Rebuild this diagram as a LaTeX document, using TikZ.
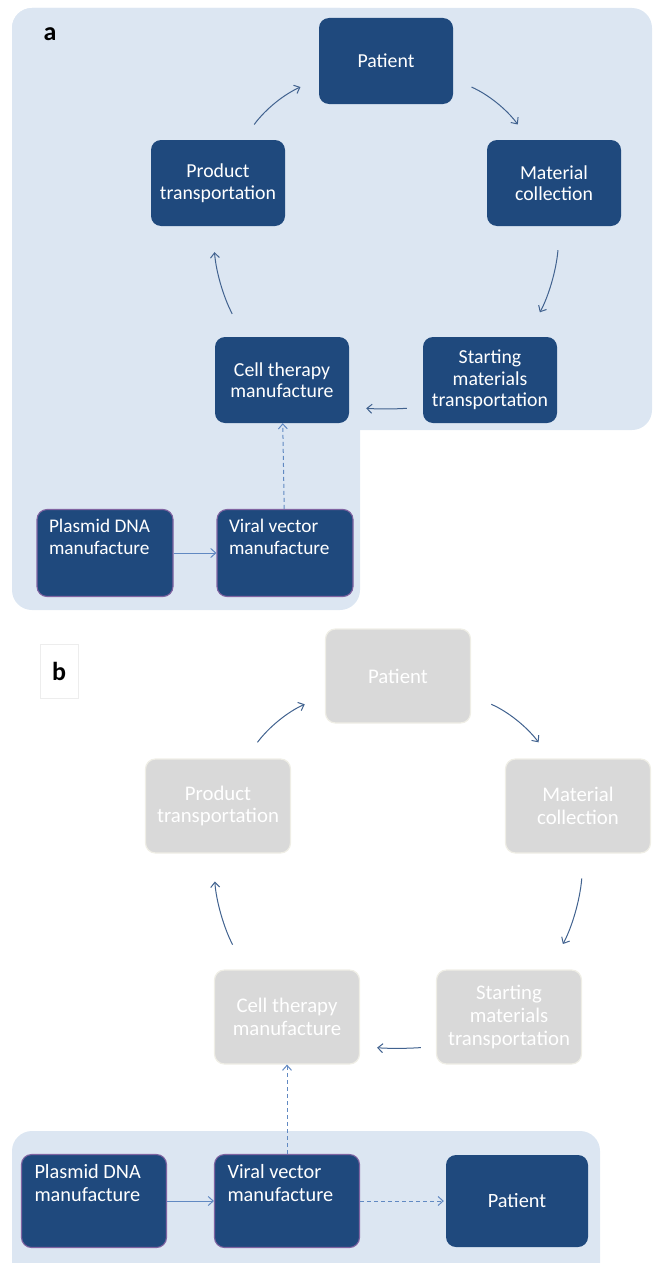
\documentclass[tikz,border=0pt]{standalone}
\usepackage{fontspec}
\setmainfont{Carlito}
\usepackage{tikz}
\usetikzlibrary{arrows.meta,positioning,calc}
\definecolor{bgBlue}{HTML}{DCE6F2}
\definecolor{boxBlue}{HTML}{1F497D}
\definecolor{boxGrey}{HTML}{D9D9D9}
\definecolor{greyEdge}{HTML}{EFEEE6}
\definecolor{lineBlue}{HTML}{41628F}
\definecolor{dashBlue}{HTML}{6189C2}
\definecolor{edgePurple}{HTML}{8064A2}

\begin{document}
\begin{tikzpicture}[x=1pt,y=-1pt,
  stage/.style={rounded corners=10pt,fill=boxBlue,text=white,align=center,inner sep=0pt,
    minimum width=134pt,minimum height=86pt,font=\fontsize{19.8}{21.5}\selectfont},
  vecbox/.style={stage,draw=edgePurple,line width=1.1pt,minimum width=136pt,minimum height=87pt,
    font=\fontsize{19.3}{21.5}\selectfont},
  faded/.style={stage,fill=boxGrey,draw=greyEdge,line width=1.2pt,
    minimum width=145pt,minimum height=94pt,font=\fontsize{20.8}{22.8}\selectfont},
  stageB/.style={stage,minimum width=145pt,minimum height=93pt,font=\fontsize{20.3}{22.8}\selectfont},
  vecboxB/.style={stageB,draw=edgePurple,line width=1.1pt},
  panel/.style={font=\fontsize{26}{26}\selectfont\bfseries},
  cyc/.style={-{Straight Barb[length=5pt,width=9pt]},lineBlue,line width=1pt},
  feed/.style={-{Straight Barb[length=5pt,width=9pt]},dashBlue,line width=1pt},
  feeddash/.style={feed,dash pattern=on 4pt off 3pt}]
\useasboundingbox (0,0) rectangle (653,1263);
% panel backgrounds
\fill[bgBlue,rounded corners=20pt] (12,8) rectangle (652,430);
\fill[bgBlue,rounded corners=20pt] (12,8) rectangle (360,610);
\fill[bgBlue,rounded corners=20pt] (12,1131) rectangle (600,1295);

% panel a
\node[panel] (labA) at (50,34) {a};
\node[stage] (patA) at (386,61) {Patient};
\node[stage] (matA) at (554,183) {Material\\collection};
\node[stage] (prodA) at (218,183) {Product\\transportation};
\node[stage] (startA) at (490,380) {Starting\\materials\\transportation};
\node[stage] (cellA) at (282,380) {Cell therapy\\manufacture};
\node[vecbox] (plasA) at (105,553) {\parbox[c][67pt][t]{112pt}{Plasmid DNA\\manufacture}};
\node[vecbox] (viraA) at (285,553) {\parbox[c][67pt][t]{112pt}{Viral vector\\manufacture}};
\draw[cyc,shorten <=19pt,shorten >=20pt] (prodA.60) to[bend left=15] (patA.195);
\draw[cyc,shorten <=20pt,shorten >=19pt] (patA.-15) to[bend left=15] (matA.120);
\draw[cyc,shorten <=24pt,shorten >=28pt] (matA.-82) to[bend left=12] (startA.50);
\draw[cyc,shorten <=16pt,shorten >=17pt] (startA.202) to[bend left=4] (cellA.-22);
\draw[cyc,shorten <=26pt,shorten >=26pt] (cellA.131) to[bend left=12] (prodA.263);
\draw[feed] (plasA) -- (viraA);
\draw[feeddash] (viraA) -- (cellA);

% panel b
\node[panel,draw=black!7,fill=white,minimum width=38pt,minimum height=54pt] (labB) at (59,671) {b};
\node[faded] (patB) at (398,676) {Patient};
\node[faded] (matB) at (578,806) {Material\\collection};
\node[faded] (prodB) at (218,806) {Product\\transportation};
\node[faded] (startB) at (509,1017) {Starting\\materials\\transportation};
\node[faded] (cellB) at (287,1017) {Cell therapy\\manufacture};
\node[vecboxB] (plasB) at (94,1201) {\parbox[c][73pt][t]{119pt}{Plasmid DNA\\manufacture}};
\node[vecboxB] (viraB) at (287,1201) {\parbox[c][73pt][t]{119pt}{Viral vector\\manufacture}};
\node[stageB,minimum width=142pt,minimum height=92pt] (patB2) at (517,1201) {Patient};
\draw[cyc,shorten <=20pt,shorten >=22pt] (prodB.60) to[bend left=15] (patB.195);
\draw[cyc,shorten <=22pt,shorten >=20pt] (patB.-15) to[bend left=15] (matB.120);
\draw[cyc,shorten <=25pt,shorten >=29pt] (matB.-83) to[bend left=12] (startB.50);
\draw[cyc,shorten <=15pt,shorten >=17pt] (startB.202) to[bend left=4] (cellB.-22);
\draw[cyc,shorten <=28pt,shorten >=28pt] (cellB.131) to[bend left=12] (prodB.264);
\draw[feed] (plasB) -- (viraB);
\draw[feeddash] (viraB) -- (cellB);
\draw[feeddash,shorten >=2pt] (viraB) -- (patB2);
\end{tikzpicture}
\end{document}
